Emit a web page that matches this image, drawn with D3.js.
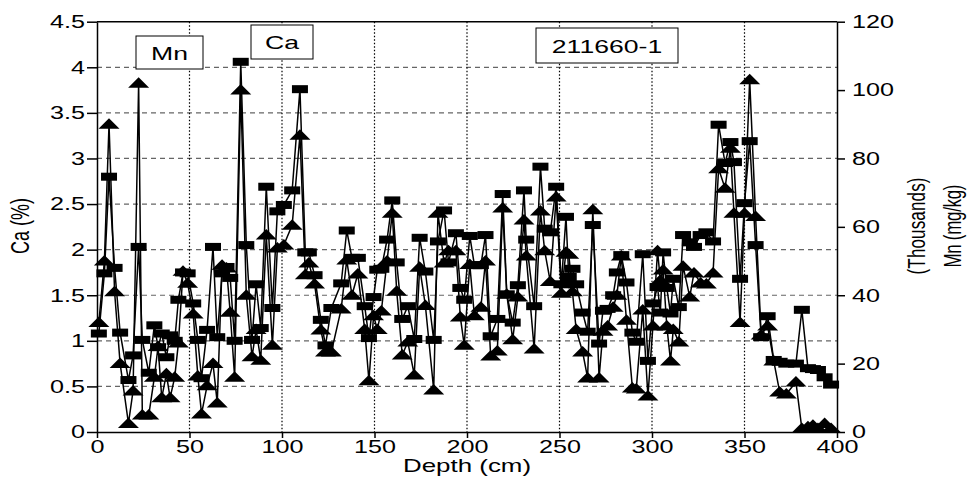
<!DOCTYPE html>
<html>
<head>
<meta charset="utf-8">
<script src="https://cdn.jsdelivr.net/npm/d3@7"></script>
<style>
  body { margin: 0; background: #fff; }
  svg text { font-family: "Liberation Sans", Arial, sans-serif; fill: #000; }
</style>
</head>
<body>
<svg id="chart"></svg>
<script>
// sample depths (cm), shared by both series
const depth = [1, 4, 6.5, 9.5, 12.5, 17, 19.5, 22.5, 24.5, 28, 31, 33, 35, 37.5, 39.5, 42, 44, 46.5, 49, 52,
  54.5, 56.5, 59.5, 62.7, 65, 67.6, 70, 72, 74.4, 77.7, 80.7, 83.8, 86, 88.5, 91.5, 94.8, 97.5, 101, 105.5, 109.7,
  112.6, 114.5, 117.6, 121, 123.5, 126.7, 132, 135, 137.8, 141, 144.7, 147, 149.5, 151.5, 153.7, 156.8, 159.6, 162, 165, 168,
  171.5, 174.4, 177.5, 182, 184.3, 187.6, 190, 194, 196.4, 198.5, 201.5, 204, 207.5, 210, 212.8, 216.4, 219.3, 221.5, 224.7, 227.5,
  230.8, 232, 236.3, 239.7, 242, 245, 248.2, 251, 253.5, 255, 257, 259, 262.5, 265.2, 268, 271.4, 273.5, 276, 279, 281,
  283.4, 286.2, 289.4, 291.5, 295, 297.8, 300.5, 303, 304.5, 306, 308, 310, 311.5, 314.5, 316.8, 320.4, 322.7, 326.3, 329.4, 333,
  336, 339.5, 342.4, 344.3, 347.6, 350, 352.8, 356, 359, 362.5, 365.8, 369, 372.6, 377.8, 381, 384.3, 387, 389.7, 393.3, 396.8];

// Ca (%)
const ca = [1.08, 1.74, 2.80, 1.80, 1.09, 0.57, 0.84, 2.03, 1.01, 0.65, 1.17, 0.93, 1.08, 0.82, 1.06, 1.00, 1.45, 1.75, 1.74, 1.41,
  1.01, 0.59, 1.12, 2.03, 1.04, 1.74, 1.81, 1.69, 1.00, 4.06, 2.05, 1.01, 1.62, 1.14, 2.69, 1.36, 2.42, 2.49, 2.65, 3.76,
  1.97, 1.97, 1.72, 1.23, 0.95, 1.36, 1.63, 2.21, 1.91, 1.91, 1.38, 1.03, 1.48, 1.78, 1.79, 2.11, 2.54, 1.86, 1.24, 1.38,
  1.02, 2.13, 1.76, 1.01, 2.09, 2.43, 1.86, 2.18, 1.58, 1.45, 2.15, 1.83, 1.83, 2.16, 1.05, 1.24, 2.61, 1.51, 1.20, 1.61,
  2.65, 2.11, 1.38, 2.91, 2.23, 2.19, 2.69, 1.62, 2.36, 1.70, 1.79, 1.62, 1.31, 1.10, 2.27, 0.97, 1.33, 1.35, 1.50, 1.75,
  1.94, 1.64, 1.09, 0.99, 1.95, 0.78, 1.41, 1.59, 1.31, 1.97, 1.58, 1.30, 1.68, 1.37, 2.16, 2.08, 2.03, 2.16, 2.19, 2.09,
  3.37, 2.95, 3.18, 2.96, 1.68, 2.51, 3.19, 2.05, 1.04, 1.27, 0.79, 0.77, 0.75, 0.75, 1.34, 0.70, 0.69, 0.68, 0.60, 0.52];

// Mn (mg/kg, thousands)
const mn = [32, 50, 90, 41, 20, 2.5, 12, 102, 5, 5, 16, 25, 10, 17, 10, 16, 26, 47, 43.5, 34.5,
  16.4, 5.3, 13.5, 20, 8.5, 48.8, 48, 35, 16, 100, 40, 22, 30, 21, 57.6, 25.4, 53.8, 54.7, 60.5, 86.8,
  46, 49.4, 43.3, 29.8, 23.4, 23.4, 36, 50.3, 40, 46.2, 30, 15, 34, 30, 35.4, 50, 64, 41.2, 22.5, 26.3,
  16.7, 48.2, 37, 12.3, 64, 49.4, 53, 53, 33.6, 25.4, 49, 34, 36.5, 50, 22.2, 23.7, 65.5, 40.3, 27, 39.5,
  62, 51.5, 24.3, 64.6, 53, 44, 68.7, 40.6, 52.6, 52, 41, 30, 23.4, 15.8, 65, 15.8, 29.5, 31, 36.5, 40,
  51.5, 32.7, 12.9, 12.6, 35.7, 10.5, 31, 53, 44.4, 47.4, 31, 20.8, 30, 26.3, 48.5, 39.5, 46.5, 43.6, 43.3, 46.5,
  77, 71.3, 83, 64, 32, 64, 103, 63, 28.4, 31, 20.8, 11.7, 11.1, 14.6, 1, 1.5, 2, 1, 2.5, 1];

const depthTicks = [0, 50, 100, 150, 200, 250, 300, 350, 400];
const caTicks = [0, 0.5, 1, 1.5, 2, 2.5, 3, 3.5, 4, 4.5];
const mnTicks = [0, 20, 40, 60, 80, 100, 120];

const width = 973;
const height = 477;
const plotL = 97, plotR = 837, plotT = 21.7, plotB = 432;
const stretch = 1.4; // text in the original is widened

const svg = d3.select("#chart")
  .attr("width", width)
  .attr("height", height);

const x = d3.scaleLinear().domain([0, 400]).range([plotL, plotR]);
const yCa = d3.scaleLinear().domain([0, 4.5]).range([plotB, plotT]);
const yMn = d3.scaleLinear().domain([0, 120]).range([plotB, plotT]);

// grid
svg.append("g")
  .selectAll("line")
  .data(caTicks.slice(1, -1))
  .join("line")
  .attr("x1", plotL).attr("x2", plotR)
  .attr("y1", d => yCa(d)).attr("y2", d => yCa(d))
  .attr("stroke", "#666")
  .attr("stroke-width", 1.2)
  .attr("stroke-dasharray", "5,4");

svg.append("g")
  .selectAll("line")
  .data(depthTicks.slice(1, -1))
  .join("line")
  .attr("x1", d => x(d)).attr("x2", d => x(d))
  .attr("y1", plotT).attr("y2", plotB)
  .attr("stroke", "#000")
  .attr("stroke-width", 1.2)
  .attr("stroke-dasharray", "1.5,2");

// axes
const fmt = d => String(d);

const gL = svg.append("g")
  .attr("transform", `translate(${plotL},0)`)
  .call(d3.axisLeft(yCa).tickValues(caTicks).tickFormat(fmt).tickSize(10).tickSizeOuter(0).tickPadding(2));

const gR = svg.append("g")
  .attr("transform", `translate(${plotR},0)`)
  .call(d3.axisRight(yMn).tickValues(mnTicks).tickFormat(fmt).tickSize(8).tickSizeOuter(0).tickPadding(7));

const gB = svg.append("g")
  .attr("transform", `translate(0,${plotB})`)
  .call(d3.axisBottom(x).tickValues(depthTicks).tickFormat(fmt).tickSize(6).tickSizeOuter(0).tickPadding(2));

[gL, gR, gB].forEach(g => {
  g.selectAll("path, line").attr("stroke", "#000").attr("stroke-width", 1.5);
  g.selectAll("text")
    .attr("font-size", 18)
    .attr("fill", "#000")
    .style("font-family", '"Liberation Sans", Arial, sans-serif')
    .attr("x", function () { return (+this.getAttribute("x") || 0) / stretch; })
    .attr("transform", `scale(${stretch},1)`);
});

svg.append("line")
  .attr("x1", plotL).attr("x2", plotR)
  .attr("y1", plotT).attr("y2", plotT)
  .attr("stroke", "#000").attr("stroke-width", 1.5);

// axis titles
svg.append("text")
  .attr("transform", `translate(29,226) scale(${stretch},1) rotate(-90)`)
  .attr("text-anchor", "middle")
  .attr("font-size", 18)
  .text("Ca (%)");

svg.append("text")
  .attr("transform", `translate(925,226) scale(${stretch},1) rotate(-90)`)
  .attr("text-anchor", "middle")
  .attr("font-size", 17)
  .attr("textLength", 97)
  .text("(Thousands)");

svg.append("text")
  .attr("transform", `translate(961,226) scale(${stretch},1) rotate(-90)`)
  .attr("text-anchor", "middle")
  .attr("font-size", 17)
  .attr("textLength", 83)
  .text("Mn (mg/kg)");

svg.append("text")
  .attr("transform", `translate(467,472) scale(${stretch},1)`)
  .attr("text-anchor", "middle")
  .attr("font-size", 18.5)
  .text("Depth (cm)");

// series
const tri = "M-10.5,4.5L10.5,4.5L0,-6Z";

const lineMn = d3.line().x((d, i) => x(depth[i])).y(d => yMn(d));
const lineCa = d3.line().x((d, i) => x(depth[i])).y(d => yCa(d));

svg.append("path")
  .datum(mn)
  .attr("d", lineMn)
  .attr("fill", "none")
  .attr("stroke", "#000")
  .attr("stroke-width", 1.5);

svg.append("g")
  .selectAll("path")
  .data(mn)
  .join("path")
  .attr("d", tri)
  .attr("transform", (d, i) => `translate(${x(depth[i])},${yMn(d)})`)
  .attr("fill", "#000");

svg.append("path")
  .datum(ca)
  .attr("d", lineCa)
  .attr("fill", "none")
  .attr("stroke", "#000")
  .attr("stroke-width", 1.5);

svg.append("g")
  .selectAll("rect")
  .data(ca)
  .join("rect")
  .attr("x", (d, i) => x(depth[i]) - 8)
  .attr("y", d => yCa(d) - 4)
  .attr("width", 16)
  .attr("height", 8)
  .attr("fill", "#000");

// label boxes
const boxes = [
  { t: "Mn", x0: 136, y0: 36, w: 67, h: 33 },
  { t: "Ca", x0: 251, y0: 25, w: 62, h: 34 },
  { t: "211660-1", x0: 536, y0: 28, w: 142, h: 35 }
];

const gBox = svg.append("g")
  .selectAll("g")
  .data(boxes)
  .join("g");

gBox.append("rect")
  .attr("x", d => d.x0).attr("y", d => d.y0)
  .attr("width", d => d.w).attr("height", d => d.h)
  .attr("fill", "#fff")
  .attr("stroke", "#000")
  .attr("stroke-width", 1);

gBox.append("text")
  .attr("transform", d => `translate(${d.x0 + d.w / 2},${d.y0 + d.h / 2 + 7}) scale(${stretch},1)`)
  .attr("text-anchor", "middle")
  .attr("font-size", 19)
  .text(d => d.t);
</script>
</body>
</html>
